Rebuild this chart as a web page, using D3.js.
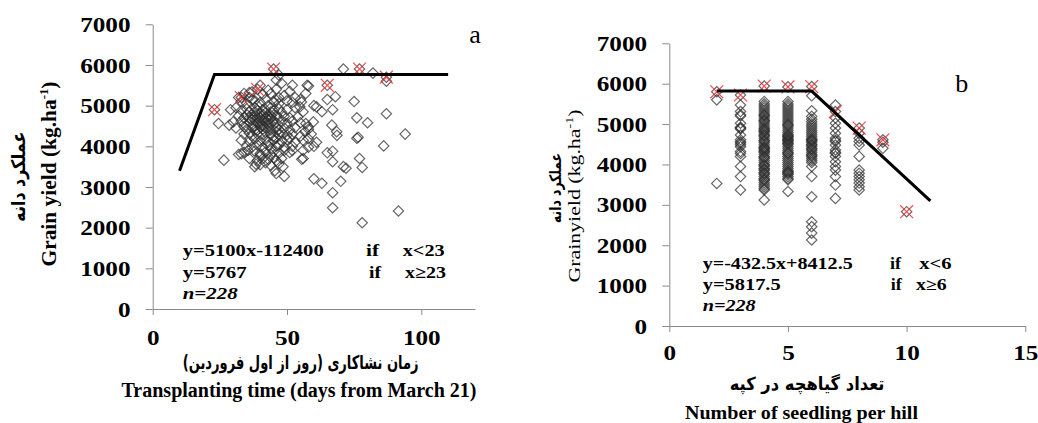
<!DOCTYPE html>
<html>
<head>
<meta charset="utf-8">
<script src="https://cdn.jsdelivr.net/npm/d3@7"></script>
<style>
  body { margin: 0; background: #fff; }
</style>
</head>
<body>
<svg id="chart"></svg>
<script>
// ---- data ----
const yieldTicks = [0, 1000, 2000, 3000, 4000, 5000, 6000, 7000];
const dayTicks = [0, 50, 100];
const hillTicks = [0, 5, 10, 15];

// panel a: transplanting day vs grain yield
const dayPoints = [
  [23,4900],[33,5200],[39,5400],[45,5900],[65,5500],[77,5900],[87,5700],
  [71,5900],[82,5800],[87,5600],[68,5220],[65,5150],[60,5000],[63,4850],[67,4900],[75,5100],
  [76,4700],[80,4580],[87,4800],[94,4300],[76,4200],[76.5,4220],[86,4010],[77,3700],[78,3480],
  [91.5,2410],[78,2120],[66.7,4520],[68.5,4360],[68.6,4270],[65,3840],[67,3880],[67,3620],
  [71,3500],[72,3460],[70,3140],[60,3200],[63,3090],[67,2860],[67,2490],[56,3700],[60,4000],
  [58,5480],[55.4,5090],[54.8,4970],[59.8,4600],[57.9,4480],[56.7,4360],[57.9,4190],[61,4970],
  [57,5300],[52,5500],[57.5,5500],
  [24.5,4560],[29,4900],[28.5,4520],[26.5,3660],[32,3800],[33,3820],[35.5,3900],[38,3500],
  [38.5,3560],[40,3780],[46,3330],[49,3260],[45.5,3400],[48.5,3500],[55.5,3680],[56,3900],
  [52,3900],[51,4200],[46,5130],[43,5380],[40,5500],[32,5200],[37,5340],[37,5150],[46,5630],
  [46,5400],[47,5750],[48,5550],
  [34,5300],[36,5320],[41,5280],[44,5300],[49,5250],[51,5350],[53,5200],
  [33,5100],[35,5050],[38,5120],[40,5080],[42,5150],[45,5100],[47,5050],[50,5120],[52,5080],[55,5150],
  [31,4950],[33,4880],[35,4920],[36,4850],[38,4950],[39,4880],[41,4900],[42,4820],[44,4950],
  [45,4870],[47,4920],[48,4840],[50,4900],[53,4950],[56,4850],
  [32,4750],[34,4700],[35,4780],[37,4720],[38,4760],[40,4700],[41,4780],[43,4730],[44,4680],
  [46,4760],[47,4700],[49,4740],[51,4700],[54,4720],
  [30,4600],[33,4620],[34,4560],[36,4600],[37,4650],[39,4580],[40,4630],[42,4600],[43,4560],
  [45,4620],[46,4580],[48,4600],[50,4560],[52,4620],[55,4580],[57,4560],
  [31,4450],[34,4480],[35,4420],[37,4460],[38,4400],[40,4480],[41,4420],[43,4450],[44,4400],
  [46,4460],[47,4420],[49,4450],[51,4400],[53,4460],[58,4420],
  [34,4300],[36,4320],[37,4260],[39,4300],[41,4280],[42,4340],[44,4290],[45,4250],[47,4300],
  [48,4340],[50,4280],[52,4300],[55,4250],[59,4300],
  [33,4150],[36,4120],[38,4180],[40,4130],[42,4160],[43,4100],[45,4150],[46,4200],[48,4120],
  [50,4160],[53,4100],[56,4150],[61,4100],
  [35,4000],[37,3980],[39,4030],[41,3970],[43,4020],[44,3950],[46,4000],[47,4050],[49,3980],
  [52,4000],[58,3980],
  [34,3850],[38,3880],[40,3820],[42,3860],[44,3800],[45,3870],[47,3830],[49,3900],[51,3850],
  [36,3700],[39,3650],[41,3700],[43,3680],[45,3720],[46,3650],[48,3700],
  [40,3550],[42,3600],[44,3530],[47,3570],
  [38,4650],[39,4700],[40,4550],[41,4650],[42,4700],[43,4650],[44,4550],[38,4500],[39,4400],
  [41,4500],[42,4450],[44,4750],[36,4700],[38,4850],[40,4800],[42,4900],[44,4850],[46,4350],
  [39,5000],[43,5000],[47,5200],[36,5200]
];
const dayOutliers = [[23,4900],[33,5200],[39,5400],[45,5900],[65,5500],[77,5900],[87,5700]];
const dayFit = [[10,3400],[23,5767],[110,5767]];

// panel b: seedlings per hill vs grain yield (one array per hill count)
const hill2 = [5800, 5600, 3530];
const hill3 = [5720, 5470, 5310, 5230, 5020, 4900, 4730, 4610, 4530, 4440, 4320, 4200, 3950, 3700, 3370,
               4880, 4920, 4560, 4490, 4270, 5200];
const hill4 = [5940, 5560, 5500, 5450, 5400, 5350, 5300, 5250, 5200, 5150, 5100, 5050, 5000, 4950, 4900,
               4850, 4800, 4750, 4700, 4650, 4600, 4550, 4500, 4450, 4400, 4350, 4300, 4250, 4200, 4150,
               4100, 4050, 4000, 3950, 3900, 3850, 3800, 3750, 3700, 3650, 3600, 3550, 3500, 3450, 3400,
               3370, 3120, 5220, 5080, 4880, 4820, 4720, 4580, 4420, 4380, 4320, 4180, 3980, 3880, 3780, 3620];
const hill5 = [5920, 5560, 5500, 5450, 5400, 5350, 5300, 5250, 5200, 5150, 5100, 5050, 5000, 4950, 4900,
               4850, 4800, 4750, 4700, 4650, 4600, 4550, 4500, 4450, 4400, 4350, 4300, 4250, 4200, 4150,
               4100, 4050, 4000, 3950, 3900, 3850, 3800, 3750, 3700, 3650, 3620, 3330, 4620, 4680, 4580,
               4720, 4520, 4280, 3820, 3780, 4980];
const hill6 = [5930, 5700, 5330, 5190, 5120, 5060, 5000, 4950, 4900, 4850, 4800, 4750, 4700, 4650, 4600,
               4550, 4500, 4450, 4400, 4350, 4300, 4250, 4200, 4150, 4100, 4050, 3950, 3700, 3200, 2580,
               2460, 2300, 2130, 4620, 4580, 4480, 4380, 4220];
const hill7 = [5470, 5310, 5150, 5020, 4900, 4770, 4650, 4570, 4480, 4360, 4280, 4200, 4070, 3950, 3860,
               3700, 3490, 3160, 4600, 4300];
const hill8 = [4900, 4770, 4650, 4570, 4480, 4200, 3860, 3780, 3700, 3620, 3540, 3450, 3370];
const hill9 = [4610, 4550, 4400];
const hill10 = [2830];
const hillOutliers = [[2,5800],[3,5720],[4,5940],[5,5920],[6,5930],[7,5310],[8,4900],[9,4610],[10,2830]];
const hillFit = [[2,5817.5],[6,5817.5],[11,3100]];

const hillPoints = [hill2, hill3, hill4, hill5, hill6, hill7, hill8, hill9, hill10]
  .flatMap((ys, i) => ys.map(v => [i + 2, v]));

// ---- drawing ----
const width = 1038, height = 423;
const SERIF = "'Liberation Serif', 'Times New Roman', serif";
const PERSIAN = "'DejaVu Sans', sans-serif";

const svg = d3.select("#chart")
  .attr("width", width)
  .attr("height", height)
  .attr("viewBox", [0, 0, width, height]);

svg.append("rect").attr("width", width).attr("height", height).attr("fill", "#fff");

function addText(g, txt, o) {
  const t = g.append("text")
    .attr("x", o.x).attr("y", o.y)
    .attr("font-family", o.family || SERIF)
    .attr("font-size", o.size)
    .attr("font-weight", o.weight || "bold")
    .attr("font-style", o.italic ? "italic" : "normal")
    .attr("text-anchor", o.anchor || "start")
    .attr("fill", "#000")
    .text(txt);
  if (o.width) t.attr("textLength", o.width).attr("lengthAdjust", "spacingAndGlyphs");
  if (o.rotate) t.attr("transform", `rotate(-90,${o.x},${o.y})`);
  return t;
}

// persian labels: measure the box, then centre and stretch it to what the figure shows
function addPersian(g, txt, o) {
  const t = g.append("text")
    .attr("x", 0).attr("y", 0)
    .attr("font-family", PERSIAN)
    .attr("font-size", o.size)
    .attr("font-weight", "bold")
    .attr("direction", "rtl")
    .attr("fill", "#000")
    .text(txt);
  const bb = t.node().getBBox();
  const k = o.width / bb.width;
  const cx = bb.x + bb.width / 2;
  t.attr("transform", `translate(${o.x},${o.y})${o.rotate ? " rotate(-90)" : ""} scale(${k},1) translate(${-cx},0)`);
  return t;
}

function drawPanel(p) {
  const x = d3.scaleLinear().domain(p.xDomain).range(p.xRange);
  const y = d3.scaleLinear().domain([0, 7000]).range(p.yRange);
  const g = svg.append("g");

  const xAxis = g.append("g")
    .attr("transform", `translate(0,${p.yRange[0]})`)
    .call(d3.axisBottom(x).tickValues(p.xTicks).tickSize(6).tickSizeOuter(0).tickFormat(d3.format("d")));
  const yAxis = g.append("g")
    .attr("transform", `translate(${p.xRange[0]},0)`)
    .call(d3.axisLeft(y).tickValues(yieldTicks).tickSize(7).tickSizeOuter(0).tickFormat(d3.format("d")));

  [xAxis, yAxis].forEach(a => {
    a.select(".domain").attr("stroke", "#8a8a8a");
    a.selectAll(".tick line").attr("stroke", "#8a8a8a");
    a.selectAll(".tick text")
      .attr("font-family", SERIF)
      .attr("font-weight", "bold")
      .attr("font-size", 21)
      .attr("fill", "#000");
  });
  xAxis.selectAll(".tick text").attr("y", p.xLabelOff).attr("dy", 0).attr("transform", "scale(1.2,1)");
  yAxis.selectAll(".tick text").attr("x", -18.5).attr("dy", "0.34em").attr("transform", "scale(1.2,1)");

  // diamonds
  const diamond = d3.symbol(d3.symbolSquare, 54)();
  g.append("g")
    .selectAll("path")
    .data(p.points)
    .join("path")
    .attr("d", diamond)
    .attr("transform", d => `translate(${x(d[0])},${y(d[1])}) rotate(45)`)
    .attr("fill", "none")
    .attr("stroke", "#2e2e2e")
    .attr("stroke-opacity", 0.72)
    .attr("stroke-width", 1.2);

  // red crosses on the boundary points
  const cross = d3.symbol(d3.symbolTimes, 110)();
  g.append("g")
    .selectAll("path")
    .data(p.outliers)
    .join("path")
    .attr("d", cross)
    .attr("transform", d => `translate(${x(d[0])},${y(d[1])})`)
    .attr("fill", "none")
    .attr("stroke", "#ff2a2a")
    .attr("stroke-opacity", 0.85)
    .attr("stroke-width", 1.2);

  // segmented fit
  g.append("path")
    .datum(p.fit)
    .attr("d", d3.line().x(d => x(d[0])).y(d => y(d[1])))
    .attr("fill", "none")
    .attr("stroke", "#000")
    .attr("stroke-width", 3);

  return g;
}

// panel a
const ga = drawPanel({
  xDomain: [0, 120], xRange: [152.7, 475], yRange: [309, 24.3],
  xTicks: dayTicks, xLabelOff: 36,
  points: dayPoints, outliers: dayOutliers, fit: dayFit
});
addText(ga, "a", { x: 475, y: 43, size: 26, weight: "normal", anchor: "middle" });
addText(ga, "y=5100x-112400", { x: 182.7, y: 256, size: 17, width: 141 });
addText(ga, "if", { x: 366, y: 256, size: 17, width: 13 });
addText(ga, "x<23", { x: 402.7, y: 256, size: 17, width: 42 });
addText(ga, "y=5767", { x: 182.7, y: 278.3, size: 17, width: 64 });
addText(ga, "if", { x: 369, y: 278.3, size: 17, width: 12 });
addText(ga, "x≥23", { x: 405, y: 278.3, size: 17, width: 41 });
addText(ga, "n=228", { x: 182.7, y: 299.3, size: 17, width: 55, italic: true });
addPersian(ga, "زمان نشاکاری (روز از اول فروردین)", { x: 300.5, y: 369, size: 19, width: 236 });
addText(ga, "Transplanting time (days from March 21)", { x: 299, y: 397, size: 20, anchor: "middle", width: 355 });
const yta = addText(ga, "Grain yield (kg.ha", { x: 56, y: 174, size: 20, anchor: "middle", width: 185, rotate: true });
yta.append("tspan").attr("font-size", 12).attr("dy", -8).text("-1");
yta.append("tspan").attr("dy", 8).text(")");
addPersian(ga, "عملکرد دانه", { x: 25, y: 176.7, size: 19, width: 90, rotate: true });

// panel b
const gb = drawPanel({
  xDomain: [0, 15], xRange: [669.3, 1025.3], yRange: [326, 43.3],
  xTicks: hillTicks, xLabelOff: 34,
  points: hillPoints, outliers: hillOutliers, fit: hillFit
});
addText(gb, "b", { x: 961.7, y: 92, size: 26, weight: "normal", anchor: "middle" });
addText(gb, "y=-432.5x+8412.5", { x: 702.7, y: 269.3, size: 16, width: 150 });
addText(gb, "if", { x: 890, y: 269.3, size: 16, width: 11 });
addText(gb, "x<6", { x: 919.3, y: 269.3, size: 16, width: 32.4 });
addText(gb, "y=5817.5", { x: 702.7, y: 290, size: 16, width: 78 });
addText(gb, "if", { x: 890.7, y: 290, size: 16, width: 11 });
addText(gb, "x≥6", { x: 916, y: 290, size: 16, width: 30.7 });
addText(gb, "n=228", { x: 702.7, y: 310.7, size: 16, width: 53, italic: true });
addPersian(gb, "تعداد گیاهچه در کپه", { x: 807, y: 390, size: 18, width: 155 });
addText(gb, "Number of seedling per hill", { x: 801.5, y: 419, size: 18, anchor: "middle", width: 233 });
const ytb = addText(gb, "Grainyield (kg.ha", { x: 580, y: 196, size: 17, weight: "normal", anchor: "middle", width: 173, rotate: true });
ytb.append("tspan").attr("font-size", 11).attr("dy", -7).text("-1");
ytb.append("tspan").attr("dy", 7).text(")");
addPersian(gb, "عملکرد دانه", { x: 561, y: 188, size: 16, width: 70, rotate: true });
</script>
</body>
</html>
